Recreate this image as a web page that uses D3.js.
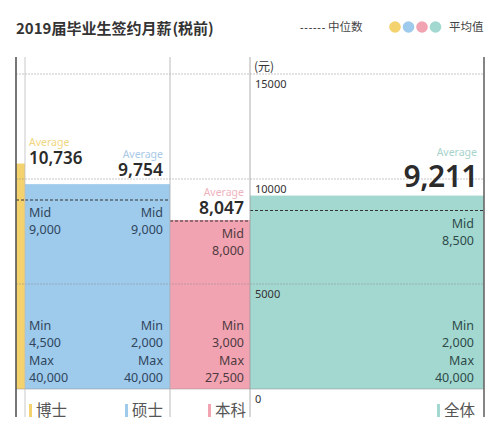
<!DOCTYPE html>
<html><head><meta charset="utf-8">
<script src="https://cdn.jsdelivr.net/npm/d3@7"></script>
<style>body{margin:0;background:#fff}svg{display:block}</style>
</head><body>
<svg id="c" width="500" height="440"></svg>
<script>
const titleMain = "2019届毕业生签约月薪";
const titleNote = "税前";
const categories = ["博士", "硕士", "本科", "全体"];
const averages = [10736, 9754, 8047, 9211];
const medians = [9000, 9000, 8000, 8500];
const mins = [4500, 2000, 3000, 2000];
const maxs = [40000, 40000, 27500, 40000];
const yTicks = [0, 5000, 10000, 15000];
const unitLabel = "(元)";
const legendMedian = "中位数";
const legendAvg = "平均值";
const barColors = ["#f4d36f", "#9ecaec", "#f2a3b2", "#a3d8d1"];
const avgLabelColors = ["#efd680", "#a9c9e6", "#efb3be", "#a7d3cc"];
const innerTextColors = ["#30465c", "#30465c", "#4e3a40", "#2e4a48"];

(function () {
const svg = d3.select("#c");
const font = "'Noto Sans','Noto Sans CJK SC',sans-serif";
const cjk = "'Noto Sans CJK SC',sans-serif";
const fmt = d3.format(",");

const y = d3.scaleLinear().domain([0, 15000]).range([389, 74]);
// column band boundaries
const xEdges = d3.scaleOrdinal().domain(categories).range([[16, 25], [25, 170], [170, 250], [250, 484]]);
const yTop = 57, yBottom = 417, xLeft = 16, xRight = 484;

// bars
svg.selectAll("rect.bar").data(categories).join("rect")
  .attr("x", d => xEdges(d)[0]).attr("width", d => xEdges(d)[1] - xEdges(d)[0])
  .attr("y", (d, i) => y(averages[i])).attr("height", (d, i) => y(0) - y(averages[i]))
  .attr("fill", (d, i) => barColors[i]);

// grid lines
svg.selectAll("line.grid").data(yTicks).join("line")
  .attr("x1", xLeft).attr("x2", xRight).attr("y1", d => y(d)).attr("y2", d => y(d))
  .attr("stroke", "#888").attr("stroke-opacity", 0.6).attr("stroke-width", 0.8)
  .attr("stroke-dasharray", d => d === 0 ? null : "2,1");

// median dashes
svg.selectAll("line.med").data(categories).join("line")
  .attr("x1", d => xEdges(d)[0]).attr("x2", d => xEdges(d)[1])
  .attr("y1", (d, i) => y(medians[i])).attr("y2", (d, i) => y(medians[i]))
  .attr("stroke", "#333").attr("stroke-width", 1).attr("stroke-dasharray", "3,2");

// vertical lines
const vlines = [
  {x: 16, c: "#555", w: 1.6},
  {x: 25, c: "#bbb", w: 0.8},
  {x: 170, c: "#aaa", w: 0.8},
  {x: 250, c: "#999", w: 0.8},
  {x: 484, c: "#666", w: 1.6}
];
svg.selectAll("line.v").data(vlines).join("line")
  .attr("x1", d => d.x).attr("x2", d => d.x).attr("y1", yTop).attr("y2", yBottom)
  .attr("stroke", d => d.c).attr("stroke-width", d => d.w);

// y tick labels
svg.selectAll("text.tick").data(yTicks).join("text")
  .attr("x", 255).attr("y", d => y(d) + 14)
  .attr("font-family", font).attr("font-size", 11).attr("fill", "#333")
  .text(d => d);
svg.append("text").attr("x", 254).attr("y", 71)
  .attr("font-family", cjk).attr("font-size", 12).attr("fill", "#333").text(unitLabel);

// title
const tt = svg.append("text").attr("x", 16).attr("y", 34)
  .attr("font-family", cjk).attr("font-weight", "bold")
  .attr("font-size", 15).attr("fill", "#333");
tt.append("tspan").text(titleMain);
tt.append("tspan").attr("dx", 1).text("(" + titleNote + ")");

// legend
svg.append("text").attr("x", 300).attr("y", 31)
  .attr("font-family", font).attr("font-size", 11).attr("letter-spacing", 0.8).attr("fill", "#333").text("------");
svg.append("text").attr("x", 328).attr("y", 31)
  .attr("font-family", cjk).attr("font-size", 11.5).attr("fill", "#444").text(legendMedian);
svg.selectAll("circle.leg").data(barColors).join("circle")
  .attr("cx", (d, i) => 395 + i * 13.5).attr("cy", 27).attr("r", 5.8).attr("fill", d => d);
svg.append("text").attr("x", 449).attr("y", 31)
  .attr("font-family", cjk).attr("font-size", 11.5).attr("fill", "#444").text(legendAvg);

// label layout per category: anchor x, alignment, avg font size
const lab = [
  {x: 29, a: "start", fs: 17},
  {x: 163, a: "end", fs: 17.5},
  {x: 244, a: "end", fs: 17.5},
  {x: 477, a: "end", fs: 30}
];
const avgNumBase = [164, 176, 214, 187];
categories.forEach((c, i) => {
  const L = lab[i];
  svg.append("text").attr("x", L.x).attr("y", avgNumBase[i] - (i === 3 ? 31 : 18))
    .attr("text-anchor", L.a).attr("font-family", font).attr("font-size", 10.5)
    .attr("fill", avgLabelColors[i]).text("Average");
  svg.append("text").attr("x", L.x + (i === 3 ? 1 : 0)).attr("y", avgNumBase[i])
    .attr("text-anchor", L.a).attr("font-family", font).attr("font-weight", 600)
    .attr("font-size", L.fs).attr("fill", "#2b2b2b").attr("letter-spacing", i === 3 ? -0.5 : 0)
    .text(fmt(averages[i]));
  const ix = i === 3 ? 474 : L.x;
  const midLines = ["Mid", fmt(medians[i])];
  midLines.forEach((t, k) => {
    svg.append("text").attr("x", ix).attr("y", y(medians[i]) + 17 + k * 17)
      .attr("text-anchor", L.a).attr("font-family", font).attr("font-size", 12.5)
      .attr("fill", innerTextColors[i]).text(t);
  });
  const mm = ["Min", fmt(mins[i]), "Max", fmt(maxs[i])];
  mm.forEach((t, k) => {
    svg.append("text").attr("x", ix).attr("y", y(0) - 7 - (3 - k) * 17.3)
      .attr("text-anchor", L.a).attr("font-family", font).attr("font-size", 12.5)
      .attr("fill", innerTextColors[i]).text(t);
  });
});

// category labels
const catX = [36, 163, 246, 475];
const catAnchor = ["start", "end", "end", "end"];
categories.forEach((c, i) => {
  const t = svg.append("text").attr("x", catX[i]).attr("y", 416)
    .attr("text-anchor", catAnchor[i]).attr("font-family", cjk)
    .attr("font-size", 15.5).attr("fill", "#555").text(c);
  const bb = t.node().getBBox();
  svg.append("rect").attr("x", bb.x - 7).attr("y", 404).attr("width", 3).attr("height", 13)
    .attr("fill", barColors[i]);
});
})();
</script>
</body></html>
